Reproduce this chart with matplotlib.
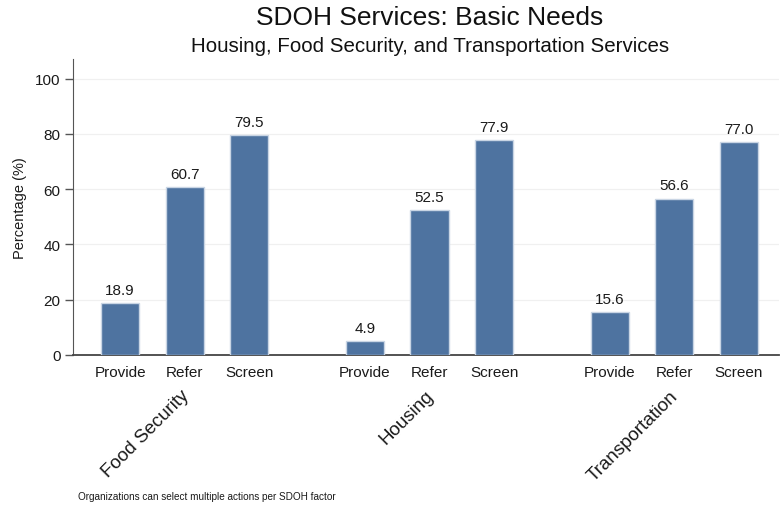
import matplotlib
matplotlib.use("Agg")
import matplotlib.pyplot as plt
import numpy as np

plt.rcParams['font.family'] = ['Liberation Sans', 'DejaVu Sans']

factors = ["Food Security", "Housing", "Transportation"]
actions = ["Provide", "Refer", "Screen"]
food_security = [18.9, 60.7, 79.5]
housing = [4.9, 52.5, 77.9]
transportation = [15.6, 56.6, 77.0]
values = [food_security, housing, transportation]
y_ticks = [0, 20, 40, 60, 80, 100]

bar_color = "#4E73A0"
edge_color = "#C9D5E4"
group_step = 3.79

fig = plt.figure(figsize=(7.8, 5.1), dpi=100)
ax = fig.add_axes([0.0936, 0.302, 0.905, 0.580])

for g, (factor, vals) in enumerate(zip(factors, values)):
    xs = g * group_step + np.arange(len(actions))
    ax.bar(xs, vals, width=0.59, color=bar_color, edgecolor=edge_color,
           linewidth=1.0, zorder=3)
    for x, v in zip(xs, vals):
        ax.text(x, v + 2.2, f"{v:.1f}", ha="center", va="bottom",
                fontsize=11, color="#1a1a1a")
    for x, a in zip(xs, actions):
        ax.text(x, -3.5, a, ha="center", va="top", fontsize=11,
                color="#1a1a1a")
    ax.text(xs[1] - 0.07, -11.5, factor, ha="right", va="top", rotation=45,
            rotation_mode="anchor", fontsize=13.5, color="#1a1a1a")

ax.set_xlim(-0.73, 10.2)
ax.set_ylim(0, 107)
ax.set_xticks([])
ax.set_yticks(y_ticks)
ax.set_yticklabels([str(t) for t in y_ticks], fontsize=11, color="#1a1a1a")
ax.tick_params(axis="y", direction="out", length=6, width=1, color="#555555",
               pad=3)
ax.yaxis.grid(True, color="#F0F0F0", linewidth=0.9, zorder=0)
ax.set_axisbelow(True)
for s in ("top", "right"):
    ax.spines[s].set_visible(False)
ax.spines["left"].set_color("#555555")
ax.spines["bottom"].set_color("#444444")
ax.spines["bottom"].set_linewidth(1.3)
ax.set_ylabel("Percentage (%)", fontsize=10.5, color="#1a1a1a", labelpad=6)

fig.text(0.551, 0.965, "SDOH Services: Basic Needs", ha="center", va="center",
         fontsize=19, color="#111111")
fig.text(0.551, 0.909, "Housing, Food Security, and Transportation Services",
         ha="center", va="center", fontsize=14.8, color="#111111")
fig.text(0.100, 0.025, "Organizations can select multiple actions per SDOH factor",
         ha="left", va="center", fontsize=7.2, color="#1a1a1a")

fig.savefig("out.png", dpi=100, facecolor="white")
